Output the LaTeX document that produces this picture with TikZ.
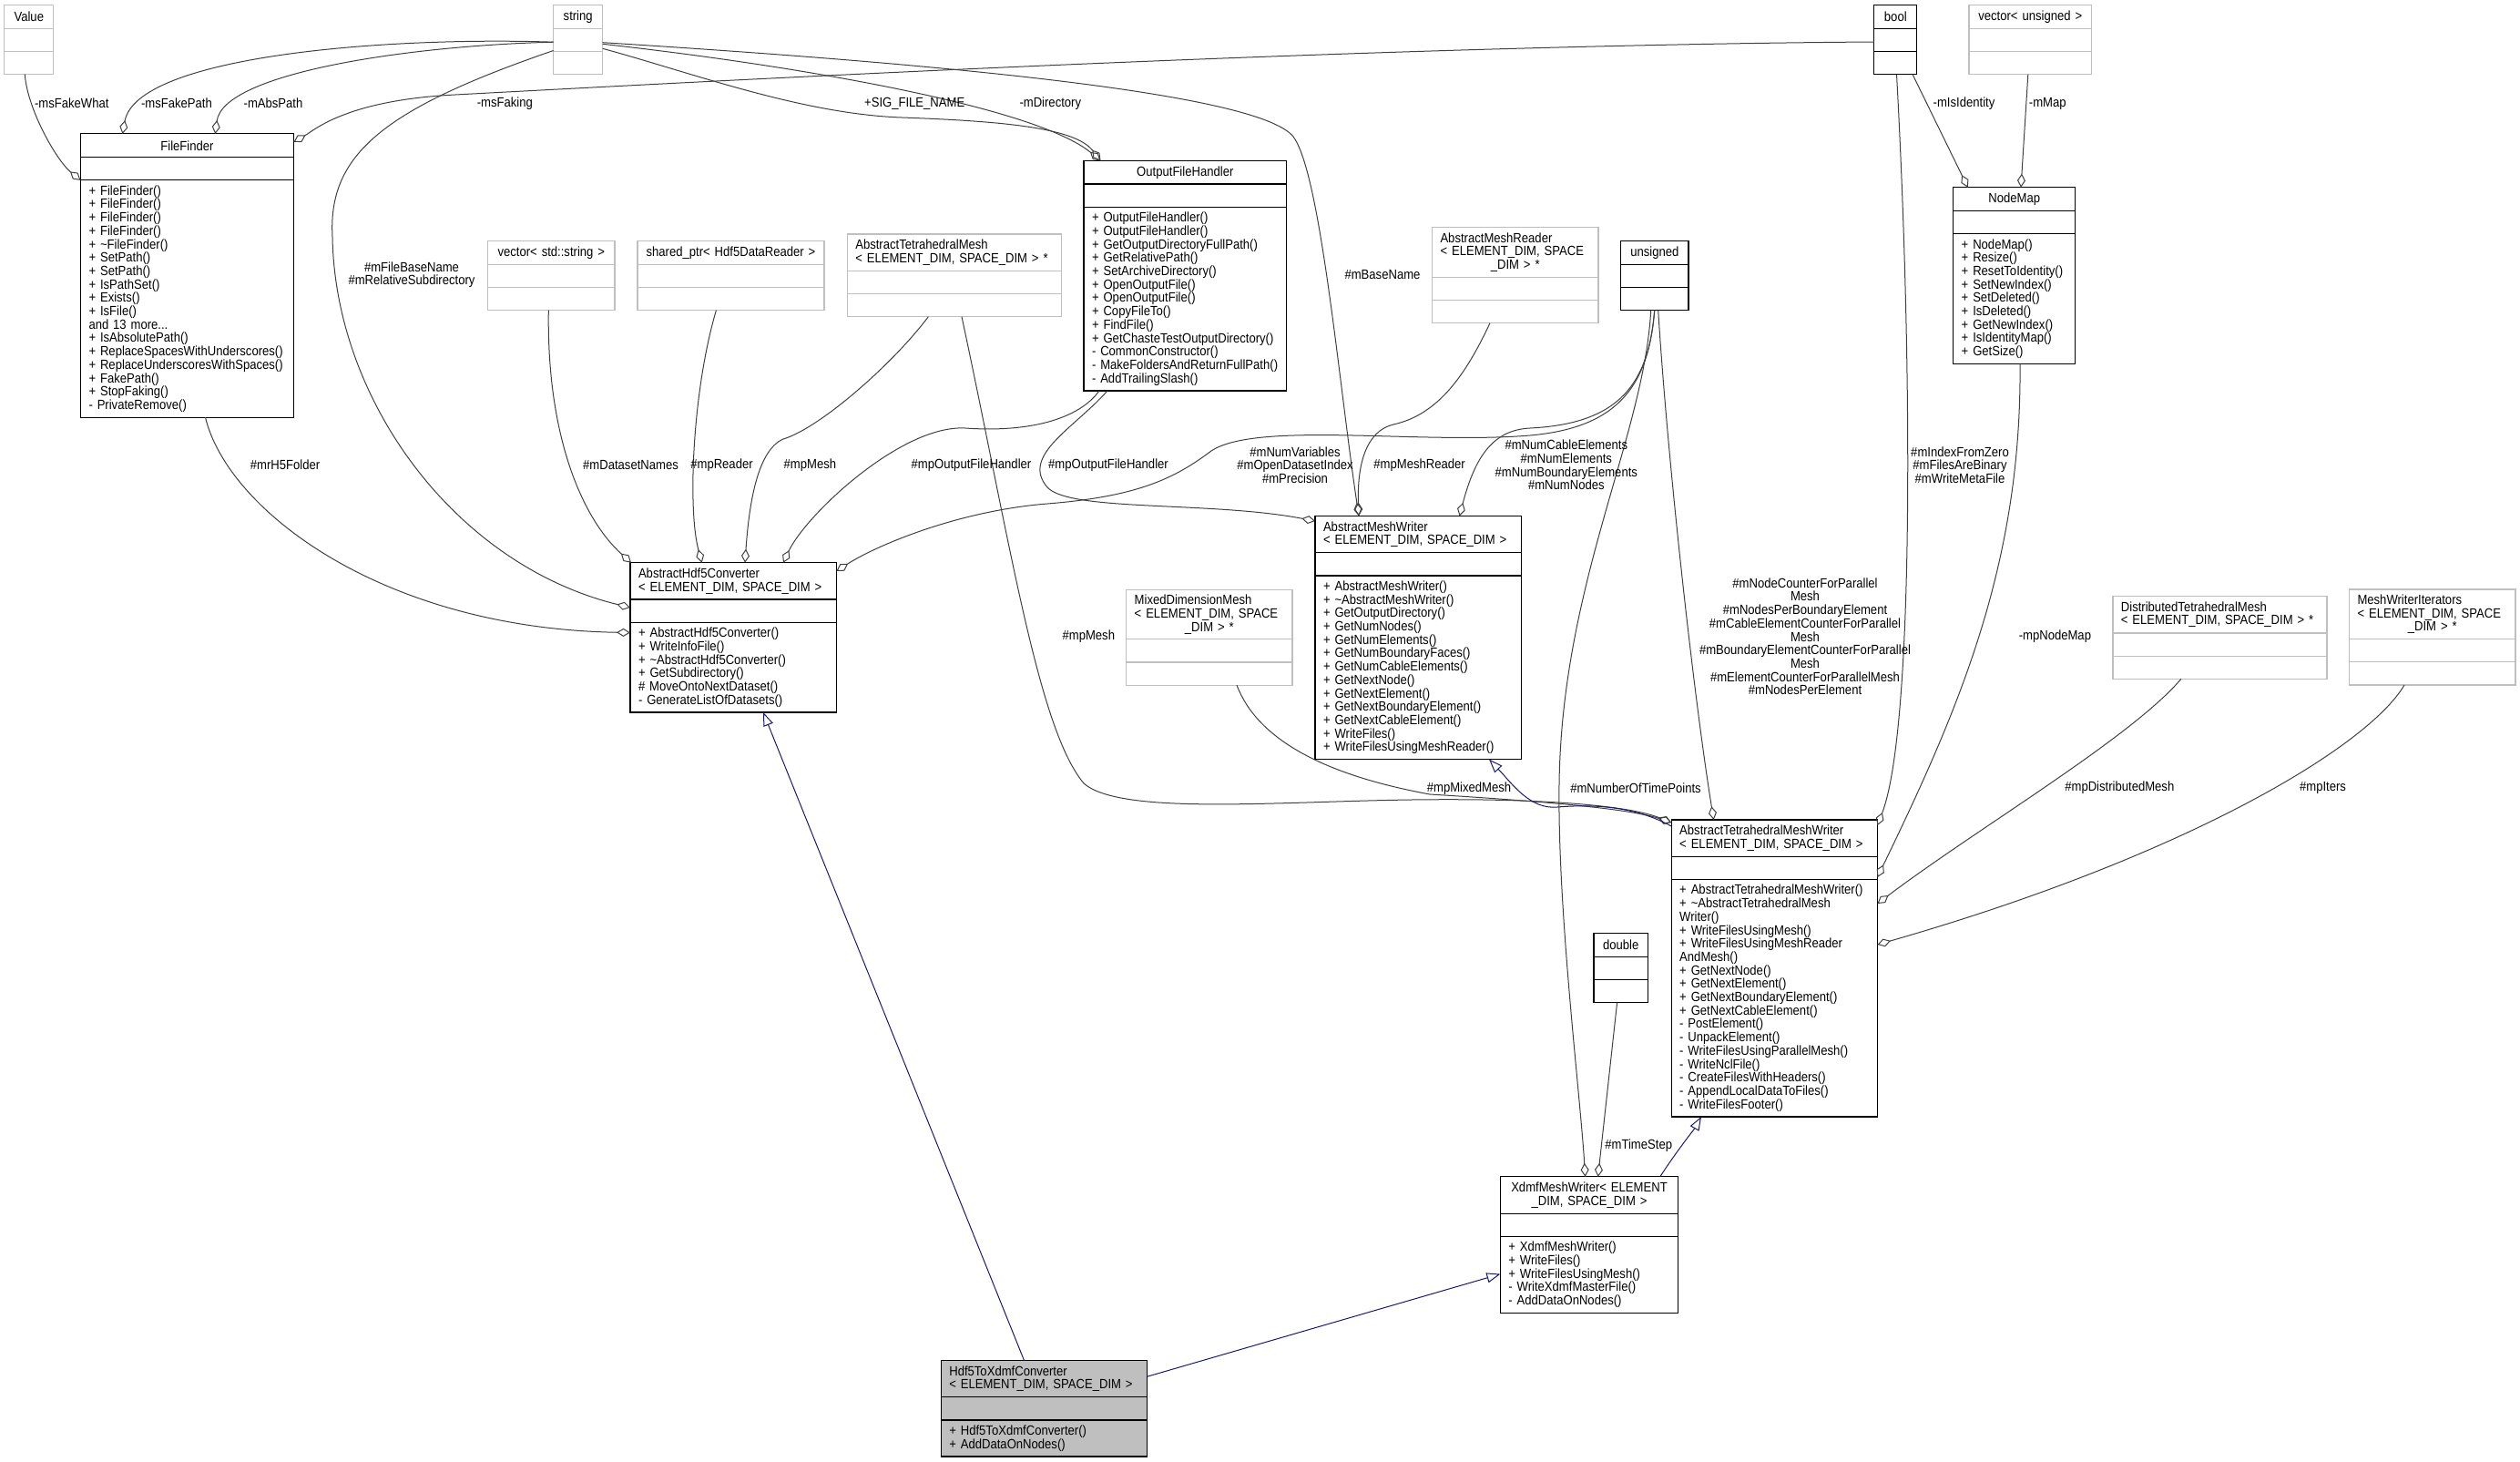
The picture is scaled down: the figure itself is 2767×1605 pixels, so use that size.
\documentclass[tikz,border=0pt]{standalone}
\usepackage{fontspec}
\setmainfont{Liberation Sans}[FakeStretch=0.89]
\usetikzlibrary{arrows.meta,positioning}
\definecolor{navy}{HTML}{191970}
\hyphenpenalty=10000

\begin{document}
\begin{tikzpicture}[
  x=1pt, y=-1pt,
  font=\fontsize{14.7}{14.7}\selectfont,
  cls/.style={
    draw=black,
    line width=1.2pt,
    fill=white,
    outer sep=0pt,
    inner xsep=9pt,
    inner ysep=0pt,
    anchor=north west,
    align=left
  },
  ext/.style={cls, draw=black!25},
  focus/.style={cls, fill=black!25},
  hd/.style={minimum height=25.7pt, align=center},
  hdtwo/.style={minimum height=40.3pt},
  hdthree/.style={minimum height=54.6pt},
  emptyrow/.style={minimum height=25.2pt},
  agg/.style={
    draw=black!75,
    line width=1pt,
    -{Diamond[open,length=15pt,width=9pt]}
  },
  inh/.style={
    draw=navy,
    line width=1pt,
    -{Triangle[open,length=15pt,width=11pt]}
  },
  lbl/.style={inner sep=0pt, align=center}
]
\useasboundingbox (0,0) rectangle (2767,1605);

% Top row: plain types
\node[ext,hd,text width=36pt] (value) at (4.8,5.5) {Value};
\node[ext,emptyrow,text width=36pt,below=0pt of value] (value-attr) {};
\node[ext,emptyrow,text width=36pt,below=0pt of value-attr] (value-ops) {};

\node[ext,hd,text width=36pt] (str) at (607.7,5.5) {string};
\node[ext,emptyrow,text width=36pt,below=0pt of str] (str-attr) {};
\node[ext,emptyrow,text width=36pt,below=0pt of str-attr] (str-ops) {};

\node[cls,hd,text width=29pt] (boolt) at (2057.8,5.5) {bool};
\node[cls,emptyrow,text width=29pt,below=0pt of boolt] (boolt-attr) {};
\node[cls,emptyrow,text width=29pt,below=0pt of boolt-attr] (boolt-ops) {};

\node[ext,hd,text width=116.5pt] (vecu) at (2162,5.5) {vector< unsigned >};
\node[ext,emptyrow,text width=116.5pt,below=0pt of vecu] (vecu-attr) {};
\node[ext,emptyrow,text width=116.5pt,below=0pt of vecu-attr] (vecu-ops) {};

% Helper classes
\node[cls,hd,text width=216pt] (ff) at (88.5,146.9) {FileFinder};
\node[cls,emptyrow,text width=216pt,below=0pt of ff] (ff-attr) {};
\node[cls,minimum height=260.4pt,text width=216pt,below=0pt of ff-attr] (ff-ops) {
  + FileFinder()\\
  + FileFinder()\\
  + FileFinder()\\
  + FileFinder()\\
  + \textasciitilde FileFinder()\\
  + SetPath()\\
  + SetPath()\\
  + IsPathSet()\\
  + Exists()\\
  + IsFile()\\
  and 13 more...\\
  + IsAbsolutePath()\\
  + ReplaceSpacesWithUnderscores()\\
  + ReplaceUnderscoresWithSpaces()\\
  + FakePath()\\
  + StopFaking()\\
  - PrivateRemove()
};

\node[cls,hd,text width=204.6pt] (ofh) at (1190,176.4) {OutputFileHandler};
\node[cls,emptyrow,text width=204.6pt,below=0pt of ofh] (ofh-attr) {};
\node[cls,minimum height=201.6pt,text width=204.6pt,below=0pt of ofh-attr] (ofh-ops) {
  + OutputFileHandler()\\
  + OutputFileHandler()\\
  + GetOutputDirectoryFullPath()\\
  + GetRelativePath()\\
  + SetArchiveDirectory()\\
  + OpenOutputFile()\\
  + OpenOutputFile()\\
  + CopyFileTo()\\
  + FindFile()\\
  + GetChasteTestOutputDirectory()\\
  - CommonConstructor()\\
  - MakeFoldersAndReturnFullPath()\\
  - AddTrailingSlash()
};

\node[cls,hd,text width=116pt] (nmap) at (2144.7,205.7) {NodeMap};
\node[cls,emptyrow,text width=116pt,below=0pt of nmap] (nmap-attr) {};
\node[cls,minimum height=142.8pt,text width=116pt,below=0pt of nmap-attr] (nmap-ops) {
  + NodeMap()\\
  + Resize()\\
  + ResetToIdentity()\\
  + SetNewIndex()\\
  + SetDeleted()\\
  + IsDeleted()\\
  + GetNewIndex()\\
  + IsIdentityMap()\\
  + GetSize()
};

\node[ext,hd,text width=121.4pt] (vecs) at (535.6,264.5) {vector< std::string >};
\node[ext,emptyrow,text width=121.4pt,below=0pt of vecs] (vecs-attr) {};
\node[ext,emptyrow,text width=121.4pt,below=0pt of vecs-attr] (vecs-ops) {};

\node[ext,hd,text width=187pt] (sptr) at (700,264.5) {shared\_ptr< Hdf5DataReader >};
\node[ext,emptyrow,text width=187pt,below=0pt of sptr] (sptr-attr) {};
\node[ext,emptyrow,text width=187pt,below=0pt of sptr-attr] (sptr-ops) {};

\node[ext,hdtwo,text width=217pt] (atm) at (930.3,257) {
  AbstractTetrahedralMesh\\
  < ELEMENT\_DIM, SPACE\_DIM > *
};
\node[ext,emptyrow,text width=217pt,below=0pt of atm] (atm-attr) {};
\node[ext,emptyrow,text width=217pt,below=0pt of atm-attr] (atm-ops) {};

\node[ext,hdthree,text width=164.4pt] (amr) at (1572.5,249.7) {
  AbstractMeshReader\\
  < ELEMENT\_DIM, SPACE\\
  \makebox[\linewidth]{\_DIM > *}
};
\node[ext,emptyrow,text width=164.4pt,below=0pt of amr] (amr-attr) {};
\node[ext,emptyrow,text width=164.4pt,below=0pt of amr-attr] (amr-ops) {};

\node[cls,hd,text width=56.3pt] (uns) at (1779.7,264.5) {unsigned};
\node[cls,emptyrow,text width=56.3pt,below=0pt of uns] (uns-attr) {};
\node[cls,emptyrow,text width=56.3pt,below=0pt of uns-attr] (uns-ops) {};

% Converter and writer hierarchy
\node[cls,hdtwo,text width=208.5pt] (ahc) at (692,617.7) {
  AbstractHdf5Converter\\
  < ELEMENT\_DIM, SPACE\_DIM >
};
\node[cls,emptyrow,text width=208.5pt,below=0pt of ahc] (ahc-attr) {};
\node[cls,minimum height=98.7pt,text width=208.5pt,below=0pt of ahc-attr] (ahc-ops) {
  + AbstractHdf5Converter()\\
  + WriteInfoFile()\\
  + \textasciitilde AbstractHdf5Converter()\\
  + GetSubdirectory()\\
  \# MoveOntoNextDataset()\\
  - GenerateListOfDatasets()
};

\node[cls,hdtwo,text width=208.4pt] (amw) at (1444,566.5) {
  AbstractMeshWriter\\
  < ELEMENT\_DIM, SPACE\_DIM >
};
\node[cls,emptyrow,text width=208.4pt,below=0pt of amw] (amw-attr) {};
\node[cls,minimum height=201.6pt,text width=208.4pt,below=0pt of amw-attr] (amw-ops) {
  + AbstractMeshWriter()\\
  + \textasciitilde AbstractMeshWriter()\\
  + GetOutputDirectory()\\
  + GetNumNodes()\\
  + GetNumElements()\\
  + GetNumBoundaryFaces()\\
  + GetNumCableElements()\\
  + GetNextNode()\\
  + GetNextElement()\\
  + GetNextBoundaryElement()\\
  + GetNextCableElement()\\
  + WriteFiles()\\
  + WriteFilesUsingMeshReader()
};

\node[ext,hdthree,text width=164.3pt] (mdm) at (1236.7,647.2) {
  MixedDimensionMesh\\
  < ELEMENT\_DIM, SPACE\\
  \makebox[\linewidth]{\_DIM > *}
};
\node[ext,emptyrow,text width=164.3pt,below=0pt of mdm] (mdm-attr) {};
\node[ext,emptyrow,text width=164.3pt,below=0pt of mdm-attr] (mdm-ops) {};

\node[ext,hdtwo,text width=217pt] (dtm) at (2319.9,654.6) {
  DistributedTetrahedralMesh\\
  < ELEMENT\_DIM, SPACE\_DIM > *
};
\node[ext,emptyrow,text width=217pt,below=0pt of dtm] (dtm-attr) {};
\node[ext,emptyrow,text width=217pt,below=0pt of dtm-attr] (dtm-ops) {};

\node[ext,hdthree,text width=164.5pt] (mwi) at (2579.5,647) {
  MeshWriterIterators\\
  < ELEMENT\_DIM, SPACE\\
  \makebox[\linewidth]{\_DIM > *}
};
\node[ext,emptyrow,text width=164.5pt,below=0pt of mwi] (mwi-attr) {};
\node[ext,emptyrow,text width=164.5pt,below=0pt of mwi-attr] (mwi-ops) {};

\node[cls,hdtwo,text width=208.3pt] (atmw) at (1835.2,900) {
  AbstractTetrahedralMeshWriter\\
  < ELEMENT\_DIM, SPACE\_DIM >
};
\node[cls,emptyrow,text width=208.3pt,below=0pt of atmw] (atmw-attr) {};
\node[cls,minimum height=260.4pt,text width=208.3pt,below=0pt of atmw-attr] (atmw-ops) {
  + AbstractTetrahedralMeshWriter()\\
  + \textasciitilde AbstractTetrahedralMesh\\
  Writer()\\
  + WriteFilesUsingMesh()\\
  + WriteFilesUsingMeshReader\\
  AndMesh()\\
  + GetNextNode()\\
  + GetNextElement()\\
  + GetNextBoundaryElement()\\
  + GetNextCableElement()\\
  - PostElement()\\
  - UnpackElement()\\
  - WriteFilesUsingParallelMesh()\\
  - WriteNclFile()\\
  - CreateFilesWithHeaders()\\
  - AppendLocalDataToFiles()\\
  - WriteFilesFooter()
};

\node[cls,hd,text width=41.4pt] (dbl) at (1750,1024.5) {double};
\node[cls,emptyrow,text width=41.4pt,below=0pt of dbl] (dbl-attr) {};
\node[cls,emptyrow,text width=41.4pt,below=0pt of dbl-attr] (dbl-ops) {};

\node[cls,hdtwo,align=center,text width=177.2pt] (xmw) at (1647.4,1291.8) {
  XdmfMeshWriter< ELEMENT\\
  \_DIM, SPACE\_DIM >
};
\node[cls,emptyrow,text width=177.2pt,below=0pt of xmw] (xmw-attr) {};
\node[cls,minimum height=84pt,text width=177.2pt,below=0pt of xmw-attr] (xmw-ops) {
  + XdmfMeshWriter()\\
  + WriteFiles()\\
  + WriteFilesUsingMesh()\\
  - WriteXdmfMasterFile()\\
  - AddDataOnNodes()
};

\node[focus,hdtwo,text width=208.4pt] (h2x) at (1033.3,1493.5) {
  Hdf5ToXdmfConverter\\
  < ELEMENT\_DIM, SPACE\_DIM >
};
\node[focus,emptyrow,text width=208.4pt,below=0pt of h2x] (h2x-attr) {};
\node[focus,minimum height=39.9pt,text width=208.4pt,below=0pt of h2x-attr] (h2x-ops) {
  + Hdf5ToXdmfConverter()\\
  + AddDataOnNodes()
};

% Members of FileFinder
\draw[agg] ([xshift=22.5pt]value-ops.south west) .. controls (30,120) and (62,176) .. ([yshift=-51pt]ff.north west);
\draw[agg] ([yshift=-40.7pt]str.north west) .. controls (420,40) and (150,62) .. ([xshift=46pt]ff.north west);
\draw[agg] ([yshift=-40.7pt]str.north west) .. controls (450,50) and (245,80) .. ([xshift=147.8pt]ff.north west);
\draw[agg] ([yshift=-40.5pt]boolt.north west) .. controls (1500,50) and (800,88) .. (500,104)
  .. controls (380,110) and (345,143) .. ([yshift=-9pt]ff.north east);

% Members of AbstractHdf5Converter
\draw[agg] ([yshift=-50pt]str.north west) .. controls (420,120) and (360,170) .. (365,260)
  .. controls (368,440) and (500,620) .. ([yshift=-49.3pt]ahc.north west);
\draw[agg] ([xshift=137pt]ff-ops.south west) .. controls (250,560) and (420,690) .. ([yshift=-76.8pt]ahc.north west);
\draw[agg] ([xshift=66.7pt]vecs-ops.south west) .. controls (600,480) and (640,570) .. ([xshift=1pt]ahc.north west);
\draw[agg] ([xshift=86.4pt]sptr-ops.south west) .. controls (760,430) and (755,560) .. ([xshift=78.7pt]ahc.north west);
\draw[agg] ([xshift=89pt]atm-ops.south west) .. controls (980,400) and (900,470) .. (860,482)
  .. controls (830,495) and (822,560) .. ([xshift=126pt]ahc.north west);
\draw[agg] ([xshift=17pt]ofh-ops.south west) .. controls (1185,460) and (1130,475) .. (1060,470)
  .. controls (990,466) and (885,565) .. ([xshift=168pt]ahc.north west);
\draw[agg] ([xshift=37pt]uns-ops.south west) .. controls (1810,430) and (1770,470) .. (1680,478)
  .. controls (1560,488) and (1380,462) .. (1330,495)
  .. controls (1290,525) and (1250,545) .. (1150,553)
  .. controls (1050,561) and (960,600) .. ([yshift=-9.3pt]ahc.north east);

% Members of OutputFileHandler
\draw[agg] ([yshift=-47.8pt]str.north east) .. controls (760,80) and (880,125) .. (990,129)
  .. controls (1100,133) and (1180,140) .. ([xshift=18.5pt]ofh.north west);
\draw[agg] ([yshift=-42.8pt]str.north east) .. controls (900,75) and (1140,120) .. ([xshift=18.5pt]ofh.north west);

% Members of AbstractMeshWriter
\draw[agg] ([xshift=26pt]ofh-ops.south west) .. controls (1180,470) and (1120,500) .. (1150,535)
  .. controls (1175,562) and (1330,550) .. ([yshift=-5.5pt]amw.north west);
\draw[agg] ([yshift=-41.2pt]str.north east) .. controls (1000,68) and (1380,100) .. (1420,150)
  .. controls (1450,190) and (1470,420) .. ([xshift=48pt]amw.north west);
\draw[agg] ([xshift=63.5pt]amr-ops.south west) .. controls (1610,410) and (1580,455) .. (1530,466)
  .. controls (1500,473) and (1490,510) .. ([xshift=48pt]amw.north west);
\draw[agg] ([xshift=37pt]uns-ops.south west) .. controls (1810,420) and (1780,465) .. (1680,470)
  .. controls (1640,472) and (1620,500) .. ([xshift=158.5pt]amw.north west);

% Members of AbstractTetrahedralMeshWriter
\draw[agg] ([xshift=41pt]uns-ops.south west) .. controls (1832,520) and (1862,780) .. ([xshift=46.5pt]atmw.north west);
\draw[agg] ([xshift=125.7pt]atm-ops.south west) .. controls (1110,600) and (1140,800) .. (1190,860)
  .. controls (1230,895) and (1400,880) .. (1550,878)
  .. controls (1700,876) and (1790,885) .. ([yshift=-3pt]atmw.north west);
\draw[agg] ([xshift=121.3pt]mdm-ops.south west) .. controls (1380,810) and (1450,850) .. (1570,872)
  .. controls (1700,880) and (1790,888) .. ([yshift=-3pt]atmw.north west);
\draw[agg] ([xshift=24.7pt]boolt-ops.south west) .. controls (2100,400) and (2102,800) .. ([yshift=-6pt]atmw.north east);
\draw[agg] ([xshift=73.3pt]nmap-ops.south west) .. controls (2220,620) and (2150,780) .. ([yshift=-63pt]atmw.north east);
\draw[agg] ([xshift=75pt]dtm-ops.south west) .. controls (2340,810) and (2170,910) .. ([yshift=-92pt]atmw.north east);
\draw[agg] ([xshift=60.5pt]mwi-ops.south west) .. controls (2600,820) and (2400,940) .. ([yshift=-137pt]atmw.north east);

% Members of NodeMap
\draw[agg] ([xshift=42.2pt]boolt-ops.south west) -- ([xshift=16pt]nmap.north west);
\draw[agg] ([xshift=64.8pt]vecu-ops.south west) -- ([xshift=74.3pt]nmap.north west);

% Members of XdmfMeshWriter
\draw[agg] ([xshift=33pt]uns-ops.south west) .. controls (1805,480) and (1715,640) .. (1712,860)
  .. controls (1710,1000) and (1735,1200) .. ([xshift=93.2pt]xmw.north west);
\draw[agg] ([xshift=25.6pt]dbl-ops.south west) -- ([xshift=107.2pt]xmw.north west);

% Inheritance
\draw[inh] ([yshift=-7pt]atmw.north west) .. controls (1800,888) and (1760,882) .. (1710,886)
  .. controls (1680,889) and (1660,860) .. ([xshift=191pt]amw-ops.south west);
\draw[inh] ([xshift=175.4pt]xmw.north west) .. controls (1840,1265) and (1860,1240) .. ([xshift=32.8pt]atmw-ops.south west);
\draw[inh] ([yshift=-17.7pt]h2x.north east) -- ([yshift=-106.8pt]xmw.north west);
\draw[inh] ([xshift=91.2pt]h2x.north west) -- ([xshift=146pt]ahc-ops.south west);

% Edge labels
\node[lbl] (l-fakewhat) at (78.8,113.6) {-msFakeWhat};
\node[lbl] (l-fakepath) at (194,113.6) {-msFakePath};
\node[lbl] (l-abspath) at (300,113.6) {-mAbsPath};
\node[lbl] (l-faking) at (554.4,113.6) {-msFaking};
\node[lbl] (l-sig) at (1004.2,113.6) {+SIG\_FILE\_NAME};
\node[lbl] (l-dir) at (1153.3,113.6) {-mDirectory};
\node[lbl] (l-identity) at (2156.5,113.6) {-mIsIdentity};
\node[lbl] (l-map) at (2248.3,113.6) {-mMap};
\node[lbl] (l-basename) at (452,301.8) {\#mFileBaseName\\\#mRelativeSubdirectory};
\node[lbl] (l-mbasename) at (1518,301.5) {\#mBaseName};
\node[lbl] (l-h5folder) at (313,510.5) {\#mrH5Folder};
\node[lbl] (l-datasets) at (692.5,510.5) {\#mDatasetNames};
\node[lbl] (l-reader) at (792.5,510.5) {\#mpReader};
\node[lbl] (l-mesh) at (889.4,510.5) {\#mpMesh};
\node[lbl] (l-ofh) at (1066.5,510.5) {\#mpOutputFileHandler};
\node[lbl] (l-ofhtwo) at (1217,510.5) {\#mpOutputFileHandler};
\node[lbl] (l-numvars) at (1422,510.5) {\#mNumVariables\\\#mOpenDatasetIndex\\\#mPrecision};
\node[lbl] (l-meshreader) at (1558.6,510.5) {\#mpMeshReader};
\node[lbl] (l-numcable) at (1719.8,510.4) {\#mNumCableElements\\\#mNumElements\\\#mNumBoundaryElements\\\#mNumNodes};
\node[lbl] (l-indexzero) at (2152,510.5) {\#mIndexFromZero\\\#mFilesAreBinary\\\#mWriteMetaFile};
\node[lbl] (l-counters) at (1982,698.8) {\#mNodeCounterForParallel\\Mesh\\\#mNodesPerBoundaryElement\\\#mCableElementCounterForParallel\\Mesh\\\#mBoundaryElementCounterForParallel\\Mesh\\\#mElementCounterForParallelMesh\\\#mNodesPerElement};
\node[lbl] (l-nodemap) at (2256.4,698.6) {-mpNodeMap};
\node[lbl] (l-meshtwo) at (1195.3,698.9) {\#mpMesh};
\node[lbl] (l-mixed) at (1613,865.3) {\#mpMixedMesh};
\node[lbl] (l-timepoints) at (1796,865.3) {\#mNumberOfTimePoints};
\node[lbl] (l-distributed) at (2327.3,865) {\#mpDistributedMesh};
\node[lbl] (l-iters) at (2550.5,865) {\#mpIters};
\node[lbl] (l-timestep) at (1799.2,1257.8) {\#mTimeStep};

\end{tikzpicture}
\end{document}
